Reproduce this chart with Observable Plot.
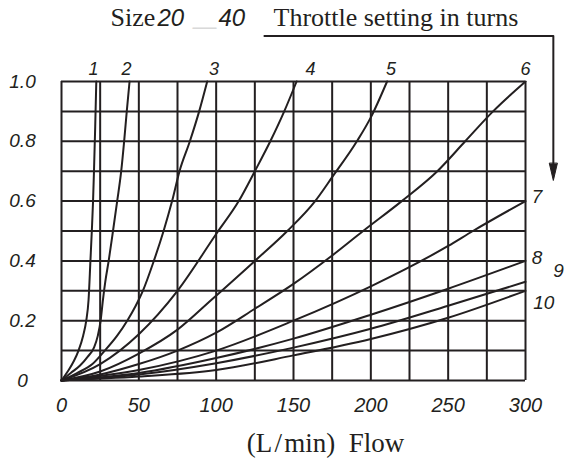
<!DOCTYPE html>
<html><head><meta charset="utf-8">
<script src="https://cdn.jsdelivr.net/npm/d3@7"></script>
<script src="https://cdn.jsdelivr.net/npm/@observablehq/plot@0.6"></script>
<style>body{margin:0;background:#fff}</style>
</head><body><div id="chart"></div>
<script>
// Throttle setting curves (flow L/min, value)
const curve1 = [[0,0],[4,0.03],[8,0.065],[11,0.1],[14,0.15],[16,0.2],[17.5,0.27],[18.7,0.4],[19.6,0.5],[20.4,0.6],[21,0.7],[21.8,0.85],[22.5,1.0]];
const curve2 = [[0,0],[6,0.025],[12,0.05],[17,0.08],[21,0.11],[23.5,0.15],[25.3,0.2],[26.8,0.27],[28.3,0.33],[30.5,0.4],[33.3,0.5],[36,0.6],[38.6,0.7],[40.5,0.8],[42.2,0.9],[44,1.0]];
const curve3 = [[0,0],[10,0.025],[20,0.055],[28,0.1],[36,0.15],[42.5,0.2],[48,0.25],[52.6,0.3],[59.7,0.4],[66,0.5],[71.5,0.6],[76.3,0.7],[83,0.8],[89,0.9],[94.2,1.0]];
const curve4 = [[0,0],[25,0.055],[50,0.155],[75,0.3],[100,0.49],[114.6,0.6],[125,0.7],[135,0.8],[144,0.9],[152,1.0]];
const curve5 = [[0,0],[25,0.03],[50,0.09],[75,0.17],[97,0.27],[125,0.4],[146,0.5],[164,0.6],[175,0.68],[191,0.8],[200,0.88],[210.5,1.0]];
const curve6 = [[0,0],[25,0.02],[50,0.055],[75,0.1],[100,0.16],[125,0.24],[150,0.323],[175,0.418],[195,0.5],[220,0.6],[243,0.7],[261,0.8],[279,0.9],[300,1.0]];
const curve7 = [[0,0],[50,0.035],[100,0.1],[150,0.2],[200,0.315],[250,0.45],[266,0.5],[300,0.6]];
const curve8 = [[0,0],[50,0.025],[100,0.075],[150,0.14],[200,0.22],[250,0.307],[300,0.4]];
const curve9 = [[0,0],[50,0.02],[100,0.058],[150,0.11],[200,0.173],[250,0.25],[300,0.33]];
const curve10 = [[0,0],[50,0.013],[100,0.035],[150,0.084],[200,0.139],[250,0.21],[300,0.3]];

const curveNames = ["1","2","3","4","5","6","7","8","9","10"];
const curves = [curve1,curve2,curve3,curve4,curve5,curve6,curve7,curve8,curve9,curve10];

// labels (in data units)
const topLabelNames = ["1","2","3","4","5","6"];
const topLabelX = [20.7, 42, 98.6, 161, 213, 300];
const topLabelY = [1.042, 1.042, 1.042, 1.042, 1.042, 1.042];
const sideLabelNames = ["7","8","9","10"];
const sideLabelX = [304, 304, 318, 305];
const sideLabelY = [0.613, 0.41, 0.366, 0.258];

// ticks and grid
const xTicks = [0,50,100,150,200,250,300];
const yTicks = [0,0.2,0.4,0.6,0.8,1.0];
const xGrid = [0,25,50,75,100,125,150,175,200,225,250,275,300];
const yGrid = [0,0.1,0.2,0.3,0.4,0.5,0.6,0.7,0.8,0.9,1.0];

// annotation: throttle bracket arrow (data units)
const bracketPath = [[131.2,1.152],[318,1.152],[318,0.72]];
const arrowTip = [[318,0.669]];

const ink = "#231f20";
const sans = "'Liberation Sans', Arial, sans-serif";
const serif = "'Liberation Serif', 'Times New Roman', serif";

const table = curves.flatMap((c, i) => c.map(([x, y]) => ({curve: curveNames[i], x, y})));
const topLabels = topLabelNames.map((t, i) => ({t, x: topLabelX[i], y: topLabelY[i]}));
const sideLabels = sideLabelNames.map((t, i) => ({t, x: sideLabelX[i], y: sideLabelY[i]}));

const headShape = {
  draw(ctx, l) {
    ctx.moveTo(-4, 0);
    ctx.lineTo(0, -l);
    ctx.lineTo(4, 0);
    ctx.closePath();
  }
};

const chart = Plot.plot({
  width: 572,
  height: 467,
  marginLeft: 61,
  marginRight: 47,
  marginTop: 81,
  marginBottom: 87,
  style: {background: "#fff", color: ink},
  x: {domain: [0, 300], label: null},
  y: {domain: [0, 1], label: null},
  marks: [
    Plot.ruleX(xGrid, {stroke: ink, strokeWidth: 2}),
    Plot.ruleY(yGrid, {stroke: ink, strokeWidth: 2}),
    Plot.line(table, {x: "x", y: "y", z: "curve", curve: "monotone-x", stroke: ink, strokeWidth: 2}),
    Plot.axisX(xTicks, {tickSize: 0, tickPadding: 17, fontSize: 20, fontStyle: "italic", fontFamily: sans, fill: ink, tickFormat: d => String(d)}),
    Plot.axisY(yTicks, {tickSize: 0, tickPadding: 39, textAnchor: "middle", fontSize: 19, fontStyle: "italic", fontFamily: sans, fill: ink, tickFormat: d => d === 0 ? "0" : d.toFixed(1)}),
    Plot.text(topLabels, {x: "x", y: "y", text: "t", fontSize: 18, fontStyle: "italic", fontFamily: sans, fill: ink}),
    Plot.text(sideLabels, {x: "x", y: "y", text: "t", textAnchor: "start", fontSize: 19, fontStyle: "italic", fontFamily: sans, fill: ink}),
    Plot.line(bracketPath, {x: d => d[0], y: d => d[1], stroke: ink, strokeWidth: 2}),
    Plot.vector(arrowTip, {x: d => d[0], y: d => d[1], length: 17, rotate: 180, anchor: "end", shape: headShape, fill: ink, stroke: ink, strokeWidth: 1}),
    Plot.text(["Size"], {frameAnchor: "top-left", dx: 49, dy: -56, lineAnchor: "bottom", textAnchor: "start", fontSize: 26, fontFamily: serif, fill: ink}),
    Plot.text(["20"], {frameAnchor: "top-left", dx: 96, dy: -56, lineAnchor: "bottom", textAnchor: "start", fontSize: 24, fontStyle: "italic", fontFamily: sans, fill: ink}),
    Plot.text(["\u2014"], {frameAnchor: "top-left", dx: 131, dy: -48, lineAnchor: "bottom", textAnchor: "start", fontSize: 24, fontFamily: sans, fill: "#d9d9d9"}),
    Plot.text(["40"], {frameAnchor: "top-left", dx: 157, dy: -56, lineAnchor: "bottom", textAnchor: "start", fontSize: 24, fontStyle: "italic", fontFamily: sans, fill: ink}),
    Plot.text(["Throttle setting in turns"], {frameAnchor: "top-left", dx: 212, dy: -56, lineAnchor: "bottom", textAnchor: "start", fontSize: 26, fontFamily: serif, fill: ink}),
    Plot.text(["(L\u200a/\u200amin)\u00a0\u00a0Flow"], {frameAnchor: "bottom", dx: 32, dy: 63, lineAnchor: "middle", fontSize: 27, fontFamily: serif, fill: ink})
  ]
});
document.getElementById("chart").appendChild(chart);
</script>
</body></html>
